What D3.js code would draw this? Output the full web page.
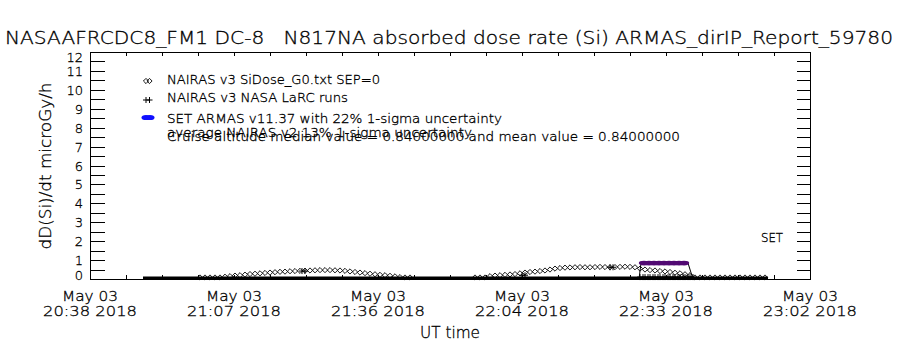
<!DOCTYPE html>
<html><head><meta charset="utf-8">
<script src="https://cdn.jsdelivr.net/npm/d3@7"></script>
<style>
html,body{margin:0;padding:0;background:#fff;}
svg text{font-family:"DejaVu Sans",sans-serif;font-weight:200;fill:#000;stroke:#000;stroke-width:0.3px;white-space:pre;}
</style></head>
<body><svg id="c" width="900" height="350"></svg>
<script>
// ---- data (minutes after 20:38 UT, May 03 2018) ----
const startTime = "2018-05-03T20:38:00Z";
const spanMinutes = 144;
const xTickLabelsDate = ["May 03","May 03","May 03","May 03","May 03","May 03"];
const xTickLabelsTime = ["20:38 2018","21:07 2018","21:36 2018","22:04 2018","22:33 2018","23:02 2018"];
const yTickLabels = [0,1,2,3,4,5,6,7,8,9,10,11,12];

const nairasMin = [22,23,24,25,26,27,28,29,30,31,32,33,34,35,36,37,38,39,40,41,42,43,44,45,46,47,48,49,50,51,52,53,54,55,56,57,58,59,60,61,62,63,64,
  77,78,79,80,81,82,83,84,85,86,87,88,89,90,91,92,93,94,95,96,97,98,99,100,101,102,103,104,105,106,107,108,109,110,111,112,113,114,115,116,117,118,119,120,
  121,122,123,124,125,126,127,128,129,130,131,132,133,134,135];
const nairasVal = [0.08,0.08,0.08,0.08,0.08,0.12,0.15,0.18,0.20,0.23,0.26,0.28,0.30,0.32,0.34,0.36,0.38,0.39,0.41,0.42,0.43,0.44,0.45,0.46,0.47,0.47,0.47,0.46,0.45,0.43,0.40,0.37,0.34,0.31,0.28,0.25,0.22,0.20,0.17,0.14,0.10,0.08,0.08,
  0.08,0.08,0.08,0.15,0.18,0.20,0.22,0.24,0.26,0.30,0.34,0.37,0.39,0.42,0.45,0.50,0.55,0.58,0.60,0.61,0.62,0.63,0.62,0.62,0.63,0.64,0.63,0.62,0.63,0.64,0.65,0.64,0.62,0.55,0.50,0.47,0.45,0.42,0.40,0.37,0.33,0.30,0.25,0.20,
  0.08,0.08,0.08,0.08,0.08,0.08,0.08,0.08,0.08,0.08,0.08,0.08,0.08,0.08,0.08];

const larcMin = [42.4,86.4,104,110,111,112,113,114,115,116,117,118,119,120];
const larcVal = [0.42,0.20,0.62,0.10,0.10,0.10,0.10,0.10,0.10,0.10,0.10,0.10,0.10,0.10];

const armasMin = [110.8,111.8,112.8,113.8,114.8,115.8,116.8,117.8,118.8];
const armasVal = [0.84,0.84,0.84,0.84,0.84,0.84,0.84,0.84,0.84];
const armasEdgeMin = [109.8,110.2,119.6,120.6];
const armasEdgeVal = [0,0.84,0.84,0];

const baseMin = [10.6,135.6];
const baseVal = [0,0];

const titleText = "NASAAFRCDC8_FM1 DC-8   N817NA absorbed dose rate (Si) ARMAS_dirIP_Report_59780";
const legendTexts = ["NAIRAS v3 SiDose_G0.txt SEP=0","NAIRAS v3 NASA LaRC runs","SET ARMAS v11.37 with 22% 1-sigma uncertainty"];
const noteTexts = ["average NAIRAS v2 13% 1-sigma uncertainty","Cruise altitude median value = 0.84000000 and mean value = 0.84000000"];

// ---- layout ----
const L=90,R=810,T=52,B=279;
const svg=d3.select("#c");
const t0=new Date(startTime);
const toDate=m=>new Date(t0.getTime()+m*60000);
const x=d3.scaleUtc().domain([t0,toDate(spanMinutes)]).range([L,R]);
const y=d3.scaleLinear().domain([0,12]).range([B,T]);

// ticks
const majorX=d3.range(6).map(i=>toDate(i*spanMinutes/5));
const minorX=d3.range(21).map(i=>toDate(i*spanMinutes/20));
const yTicks=d3.range(0,12.01,0.5);

function clean(g){g.select(".domain").remove();g.selectAll("line").attr("stroke","#000").attr("shape-rendering","crispEdges");g.selectAll("text").remove();}
svg.append("g").attr("transform",`translate(0,${B})`).call(d3.axisBottom(x).tickValues(minorX).tickSize(-4)).call(clean);
svg.append("g").attr("transform",`translate(0,${T})`).call(d3.axisTop(x).tickValues(minorX).tickSize(-4)).call(clean);
svg.append("g").attr("transform",`translate(${L},0)`).call(d3.axisLeft(y).tickValues(yTicks).tickSize(-15)).call(clean);
svg.append("g").attr("transform",`translate(${R},0)`).call(d3.axisRight(y).tickValues(yTicks).tickSize(-13)).call(clean);

svg.append("rect").attr("x",L+0.5).attr("y",T+0.5).attr("width",R-L).attr("height",B-T)
  .attr("fill","none").attr("stroke","#000").attr("stroke-width",1).attr("shape-rendering","crispEdges");

// y labels
svg.append("g").selectAll("text").data(yTickLabels).join("text")
  .attr("x",83).attr("text-anchor","end").attr("font-size",13)
  .attr("y",d=>Math.max(62,Math.min(280,y(d)+5)))
  .text(d=>d);

// x labels
majorX.forEach((d,i)=>{
  svg.append("text").attr("x",x(d)).attr("y",300.5).attr("text-anchor","middle").attr("font-size",14)
    .attr("textLength",56).attr("lengthAdjust","spacingAndGlyphs").text(xTickLabelsDate[i]);
  svg.append("text").attr("x",x(d)).attr("y",316).attr("text-anchor","middle").attr("font-size",14.5)
    .attr("textLength",94).attr("lengthAdjust","spacingAndGlyphs").text(xTickLabelsTime[i]);
});

// titles
svg.append("text").attr("x",5).attr("y",44).attr("font-size",17)
  .attr("textLength",888).attr("lengthAdjust","spacingAndGlyphs").text(titleText);
svg.append("text").attr("x",420).attr("y",338).attr("font-size",15)
  .attr("textLength",60).attr("lengthAdjust","spacingAndGlyphs").text("UT time");
svg.append("text").attr("transform","translate(51,166) rotate(-90)").attr("text-anchor","middle").attr("font-size",15)
  .attr("textLength",167).attr("lengthAdjust","spacingAndGlyphs").text("dD(Si)/dt microGy/h");

// data: baseline
const line=d3.line();
svg.append("path").attr("d",line(baseMin.map((m,i)=>[x(toDate(m)),y(baseVal[i])-1])))
  .attr("stroke","#000").attr("stroke-width",3).attr("fill","none");

const diamond=(cx,cy,s)=>`M${cx-s},${cy}L${cx},${cy-s}L${cx+s},${cy}L${cx},${cy+s}Z`;
const plus=(cx,cy,s)=>`M${cx-s},${cy}H${cx+s}M${cx},${cy-s}V${cy+s}`;

// NAIRAS diamonds
svg.append("path").attr("d",nairasMin.map((m,i)=>diamond(x(toDate(m)),y(nairasVal[i]),2.6)).join(""))
  .attr("fill","none").attr("stroke","#000").attr("stroke-width",0.9);

// ARMAS edge line
svg.append("path").attr("d",line(armasEdgeMin.map((m,i)=>[x(toDate(m)),y(armasEdgeVal[i])])))
  .attr("fill","none").attr("stroke","#000").attr("stroke-width",1);

// LaRC plus
svg.append("path").attr("d",larcMin.map((m,i)=>plus(x(toDate(m)),y(larcVal[i]),3)+plus(x(toDate(m))+3,y(larcVal[i]),3)).join(""))
  .attr("fill","none").attr("stroke","#000").attr("stroke-width",1);

// ARMAS ellipses
svg.append("g").selectAll("ellipse").data(armasMin).join("ellipse")
  .attr("cx",m=>x(toDate(m))).attr("cy",(m,i)=>y(armasVal[i])).attr("rx",5.2).attr("ry",2.3)
  .attr("fill","#520a73");

// legend
const lx=167;
const ly=[84,102,123];
svg.append("path").attr("d",diamond(146,ly[0]-3,2.6)+diamond(149.5,ly[0]-3,2.6)).attr("fill","none").attr("stroke","#000").attr("stroke-width",0.9);
svg.append("path").attr("d",plus(146,ly[1]-2,3)+plus(149.5,ly[1]-2,3)).attr("fill","none").attr("stroke","#000").attr("stroke-width",1);
svg.append("ellipse").attr("cx",146).attr("cy",ly[2]-5.5).attr("rx",4.5).attr("ry",2.6).attr("fill","#1010ff");
svg.append("ellipse").attr("cx",150).attr("cy",ly[2]-5.5).attr("rx",4.5).attr("ry",2.6).attr("fill","#1010ff");
const legW=[213,181,335];
legendTexts.forEach((t,i)=>svg.append("text").attr("x",lx).attr("y",ly[i]).attr("font-size",12)
  .attr("textLength",legW[i]).attr("lengthAdjust","spacingAndGlyphs").text(t));
const noteY=[137,141], noteW=[305,513];
noteTexts.forEach((t,i)=>svg.append("text").attr("x",lx).attr("y",noteY[i]).attr("font-size",12)
  .attr("textLength",noteW[i]).attr("lengthAdjust","spacingAndGlyphs").text(t));
svg.append("text").attr("x",761).attr("y",242).attr("font-size",12)
  .attr("textLength",22).attr("lengthAdjust","spacingAndGlyphs").text("SET");
</script></body></html>
